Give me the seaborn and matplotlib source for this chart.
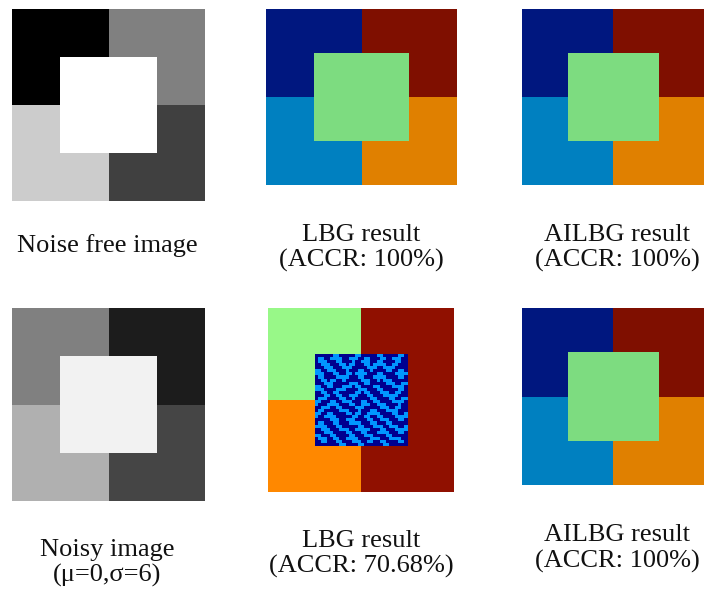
import numpy as np
import matplotlib
matplotlib.use('Agg')
import matplotlib.pyplot as plt
from matplotlib.colors import ListedColormap
import seaborn as sns

# region layout of the synthetic image: 0=TL, 1=TR, 2=BL, 3=BR, 4=centre square
regions = np.array([[0, 0, 1, 1],
                    [0, 4, 4, 1],
                    [2, 4, 4, 3],
                    [2, 2, 3, 3]])

# grey levels per region
clean_levels = [0, 128, 204, 64, 255]
noisy_levels = [128, 28, 176, 69, 242]

# cluster colours (jet) per region
result_colors = ['#00177f', '#7f0f00', '#0080c0', '#e08000', '#7ddc80']

# LBG on noisy image: quadrant colours + two-class noisy centre
lbg_noisy_quads = ['#98f888', '#901000', '#ff8800', '#901000']
lbg_noisy_centre = ['#00008f', '#0096ff']
lbg_noisy_bits = [
    "0000001100" "0001100000" "1100000110",
    "0110011110" "0111001100" "0110011100",
    "0111000110" "0010011100" "1100001100",
    "0011100011" "0110001101" "1110011000",
    "0001110001" "1100000111" "0011110000",
    "1100111000" "1000110010" "0001100110",
    "1110001100" "1101111000" "1100001111",
    "0110000111" "1000110001" "1110000110",
    "0011011001" "0000011100" "1011100000",
    "0001110000" "0111001100" "0001110011",
    "1100110001" "1101100001" "1000011110",
    "1110000111" "0000111000" "1100000110",
    "0011001100" "0001101100" "0111001100",
    "0001100110" "0111000110" "0011111000",
    "0111000011" "0010000011" "0000110011",
    "1100011001" "1100011001" "1000011110",
    "1000111100" "0110011100" "1110000100",
    "0011100110" "0001110000" "0111001100",
    "0110000011" "1000100011" "0001111000",
    "1100110000" "1101100111" "1000011001",
    "1001111000" "0011001100" "1100001111",
    "0000011100" "1110000110" "0111000110",
    "0110001100" "0111100011" "0001100000",
    "1111000110" "0000110001" "1100111001",
    "0011100011" "1001111100" "0110001111",
    "0001110000" "1100011000" "1111000110",
    "1100011000" "0110001110" "0001100000",
    "0111001100" "1111000011" "1000111100",
    "0011000110" "0011100110" "0110000110",
    "0000000011" "0000110000" "0011000000",
]

captions = [
    ["Noise free image"], ["LBG result", "(ACCR: 100%)"], ["AILBG result", "(ACCR: 100%)"],
    ["Noisy image", "(\u03bc=0,\u03c3=6)"], ["LBG result", "(ACCR: 70.68%)"], ["AILBG result", "(ACCR: 100%)"],
]

W, H = 704, 595
fig = plt.figure(figsize=(W / 100, H / 100), dpi=100)
plt.rcParams['font.family'] = ['Liberation Serif', 'DejaVu Serif']


def px_axes(x0, y0, x1, y1):
    return fig.add_axes([x0 / W, 1 - y1 / H, (x1 - x0) / W, (y1 - y0) / H])


def show_labels(ax, grid, colors):
    cmap = ListedColormap(colors)
    sns.heatmap(grid, ax=ax, cmap=cmap, vmin=-0.5, vmax=len(colors) - 0.5,
                cbar=False, xticklabels=False, yticklabels=False)
    ax.axis('off')


def show_gray(ax, grid):
    sns.heatmap(grid, ax=ax, cmap='gray', vmin=0, vmax=255,
                cbar=False, xticklabels=False, yticklabels=False)
    ax.axis('off')


# panel boxes in pixels (x0, y0, x1, y1)
boxes = [(12, 9, 205, 201), (266, 9, 457, 185), (522, 9, 704, 185),
         (12, 308, 205, 501), (268, 308, 454, 492), (522, 308, 704, 485)]
axes = [px_axes(*b) for b in boxes]

show_gray(axes[0], np.array(clean_levels)[regions])
show_labels(axes[1], regions, result_colors)
show_labels(axes[2], regions, result_colors)
show_gray(axes[3], np.array(noisy_levels)[regions])

# noisy LBG result: 60x60 grid, centre 30x30 from the bit pattern
quad = np.array([[0, 1], [2, 3]])
grid5 = np.kron(quad, np.ones((30, 30), dtype=int))
bits = np.array([[int(c) for c in row] for row in lbg_noisy_bits])
grid5[15:45, 15:45] = 4 + bits
show_labels(axes[4], grid5, lbg_noisy_quads + lbg_noisy_centre)
show_labels(axes[5], regions, result_colors)

# captions: x centre and baselines in pixels
cap_pos = [(107, [252]), (361, [241, 267]), (617, [241, 267]),
           (107, [556, 582]), (361, [547, 573]), (617, [541, 568])]
for (cx, ys), lines in zip(cap_pos, captions):
    for y, txt in zip(ys, lines):
        fig.text(cx / W, 1 - y / H, txt, ha='center', va='baseline',
                 fontsize=19, color='#111111')

fig.savefig('out.png', dpi=100)
